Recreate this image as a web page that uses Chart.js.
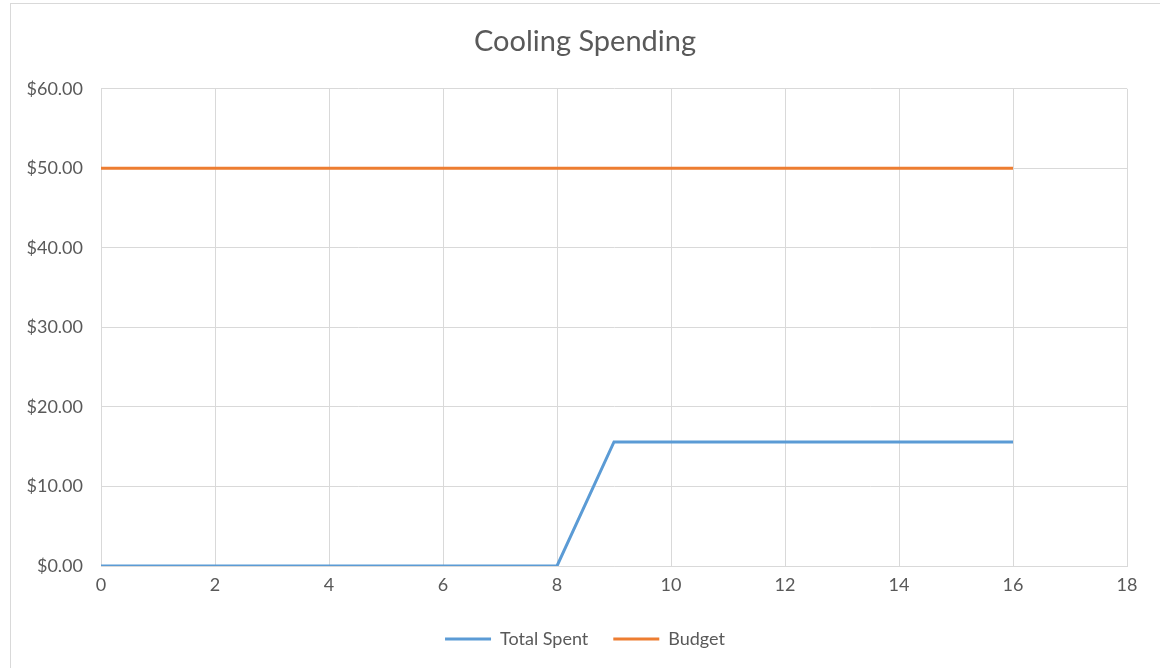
<!DOCTYPE html>
<html>
<head>
<meta charset="utf-8">
<script src="https://cdn.jsdelivr.net/npm/chart.js@4/dist/chart.umd.min.js"></script>
<style>
  body { margin: 0; background: #fff; }
  #frame { position: absolute; left: 10px; top: 3px; width: 1200px; height: 700px; border: 1px solid #d9d9d9; }
  #wrap { position: absolute; left: 0; top: 0; width: 1160px; height: 668px; }
</style>
</head>
<body>
<div id="frame"></div>
<div id="wrap"><canvas id="chart"></canvas></div>
<script>
const days = [0, 1, 2, 3, 4, 5, 6, 7, 8, 9, 10, 11, 12, 13, 14, 15, 16];
const totalSpent = [0, 0, 0, 0, 0, 0, 0, 0, 0, 15.6, 15.6, 15.6, 15.6, 15.6, 15.6, 15.6, 15.6];
const budget = [50, 50, 50, 50, 50, 50, 50, 50, 50, 50, 50, 50, 50, 50, 50, 50, 50];
const xTicks = [0, 2, 4, 6, 8, 10, 12, 14, 16, 18];

const FONT = "Lato, 'Open Sans', sans-serif";
const TEXT = "#595959";
const GRID = "#d9d9d9";

const toPoints = values => days.map((d, i) => ({ x: d, y: values[i] }));

const ctx = document.getElementById("chart");
const chart = new Chart(ctx, {
  type: "scatter",
  data: {
    datasets: [
      {
        label: "Total Spent",
        data: toPoints(totalSpent),
        showLine: true,
        borderColor: "#5b9bd5",
        backgroundColor: "#5b9bd5",
        borderWidth: 3,
        pointRadius: 0,
        tension: 0
      },
      {
        label: "Budget",
        data: toPoints(budget),
        showLine: true,
        borderColor: "#ed7d31",
        backgroundColor: "#ed7d31",
        borderWidth: 3,
        pointRadius: 0,
        tension: 0
      }
    ]
  },
  options: {
    responsive: true,
    maintainAspectRatio: false,
    animation: false,
    // left 10 + right 0 keeps title/legend centred at x=585 like the original
    layout: { padding: { left: 10, right: 0, top: 0, bottom: 10 } },
    plugins: {
      title: {
        display: true,
        text: "Cooling Spending",
        color: TEXT,
        font: { family: FONT, size: 29, weight: "normal" },
        padding: { top: 24, bottom: 30 }
      },
      legend: {
        position: "bottom",
        labels: {
          color: TEXT,
          font: { family: FONT, size: 18 },
          usePointStyle: true,
          pointStyle: "line",
          pointStyleWidth: 46,
          padding: 25
        }
      },
      tooltip: { enabled: false }
    },
    scales: {
      x: {
        type: "linear",
        min: 0,
        max: 18,
        afterBuildTicks: axis => { axis.ticks = xTicks.map(v => ({ value: v })); },
        afterFit: axis => {
          axis.height = 39;
          axis.paddingRight = 33; // plot ends at x=1127
        },
        grid: { color: GRID, drawTicks: false },
        border: { color: GRID },
        ticks: { color: TEXT, font: { family: FONT, size: 18 }, padding: 8 }
      },
      y: {
        min: 0,
        max: 60,
        afterFit: axis => { axis.width = 91; },
        grid: { color: GRID, drawTicks: false },
        border: { color: GRID },
        ticks: {
          stepSize: 10,
          color: TEXT,
          font: { family: FONT, size: 18 },
          padding: 18,
          callback: v => "$" + v.toFixed(2)
        }
      }
    }
  }
});
</script>
</body>
</html>
